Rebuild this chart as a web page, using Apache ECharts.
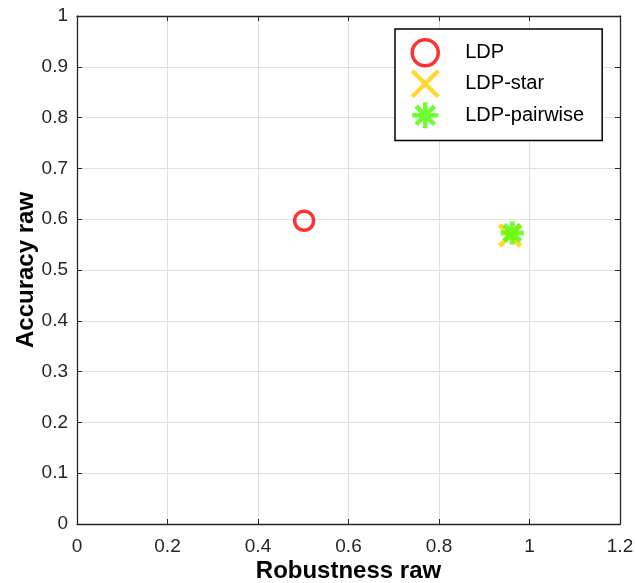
<!DOCTYPE html>
<html>
<head>
<meta charset="utf-8">
<style>
    html, body { margin: 0; padding: 0; background: #fff; }
    #main { width: 635px; height: 583px; }
</style>
<script src="https://cdn.jsdelivr.net/npm/echarts@6/dist/echarts.min.js"></script>
</head>
<body>
<div id="main"></div>
<script>
    // data
    var seriesNames = ['LDP', 'LDP-star', 'LDP-pairwise'];
    var ldpPoint = [[0.502, 0.597]];
    var starPoint = [[0.957, 0.568]];
    var pairwisePoint = [[0.962, 0.573]];

    var xTicks = { min: 0, max: 1.2, interval: 0.2 };
    var yTicks = { min: 0, max: 1, interval: 0.1 };

    var crossPath = 'path://M0,0L10,10M10,0L0,10';
    var asteriskPath = 'path://M5,0L5,10M0,5L10,5M1.46,1.46L8.54,8.54M8.54,1.46L1.46,8.54';

    var axisColor = '#262626';
    var labelFont = { fontFamily: 'Liberation Sans, Arial, sans-serif', fontSize: 19, color: axisColor };
    var nameFont = { fontFamily: 'Liberation Sans, Arial, sans-serif', fontSize: 24, fontWeight: 'bold', color: '#000' };

    function frameAxis(pos, range) {
        return {
            type: 'value',
            position: pos,
            min: range.min, max: range.max, interval: range.interval,
            axisLine: { show: true, onZero: false, lineStyle: { color: axisColor, width: 1.3 } },
            axisTick: { show: true, inside: true, length: 5, lineStyle: { color: axisColor } },
            axisLabel: { show: false },
            splitLine: { show: false }
        };
    }

    var myChart = echarts.init(document.getElementById('main'));
    var option = {
        backgroundColor: '#fff',
        animation: false,
        grid: { left: 77, right: 15, top: 16, bottom: 59, containLabel: false, outerBoundsMode: 'none' },
        legend: {
            orient: 'vertical',
            left: 395,
            top: 29,
            padding: [9, 18, 10, 15],
            itemWidth: 26,
            itemHeight: 26,
            itemGap: 1,
            backgroundColor: '#fff',
            borderColor: '#000',
            borderWidth: 1.5,
            borderRadius: 0,
            textStyle: { fontFamily: 'Liberation Sans, Arial, sans-serif', fontSize: 20, color: '#000', padding: [0, 0, 0, 22] },
            data: [
                { name: seriesNames[0], itemStyle: { borderWidth: 3.5 } },
                { name: seriesNames[1], itemStyle: { borderWidth: 4.5 } },
                { name: seriesNames[2], itemStyle: { borderWidth: 4.5 } }
            ]
        },
        xAxis: [{
            type: 'value',
            min: xTicks.min, max: xTicks.max, interval: xTicks.interval,
            name: 'Robustness raw',
            nameLocation: 'middle',
            nameGap: 35,
            nameMoveOverlap: false,
            nameTextStyle: nameFont,
            axisLine: { show: true, onZero: false, lineStyle: { color: axisColor, width: 1.3 } },
            axisTick: { show: true, inside: true, length: 5, lineStyle: { color: axisColor } },
            axisLabel: Object.assign({ margin: 13 }, labelFont),
            splitLine: { show: true, lineStyle: { color: '#dfdfdf', width: 1 } }
        }, frameAxis('top', xTicks)],
        yAxis: [{
            type: 'value',
            min: yTicks.min, max: yTicks.max, interval: yTicks.interval,
            name: 'Accuracy raw',
            nameLocation: 'middle',
            nameGap: 39,
            nameMoveOverlap: false,
            nameTextStyle: nameFont,
            axisLine: { show: true, onZero: false, lineStyle: { color: axisColor, width: 1.3 } },
            axisTick: { show: true, inside: true, length: 5, lineStyle: { color: axisColor } },
            axisLabel: Object.assign({ margin: 9 }, labelFont),
            splitLine: { show: true, lineStyle: { color: '#dfdfdf', width: 1 } }
        }, frameAxis('right', yTicks)],
        series: [
            {
                name: 'LDP',
                type: 'scatter',
                data: ldpPoint,
                symbol: 'circle',
                symbolSize: 19,
                itemStyle: { color: 'transparent', borderColor: '#ff0000', borderWidth: 3.5 }
            },
            {
                name: 'LDP-star',
                type: 'scatter',
                data: starPoint,
                symbol: crossPath,
                symbolSize: 21,
                itemStyle: { color: 'transparent', borderColor: '#ffd000', borderWidth: 5 }
            },
            {
                name: 'LDP-pairwise',
                type: 'scatter',
                data: pairwisePoint,
                symbol: asteriskPath,
                symbolSize: 23,
                itemStyle: { color: 'transparent', borderColor: '#4cff00', borderWidth: 5 }
            }
        ]
    };
    myChart.setOption(option);
</script>
</body>
</html>
